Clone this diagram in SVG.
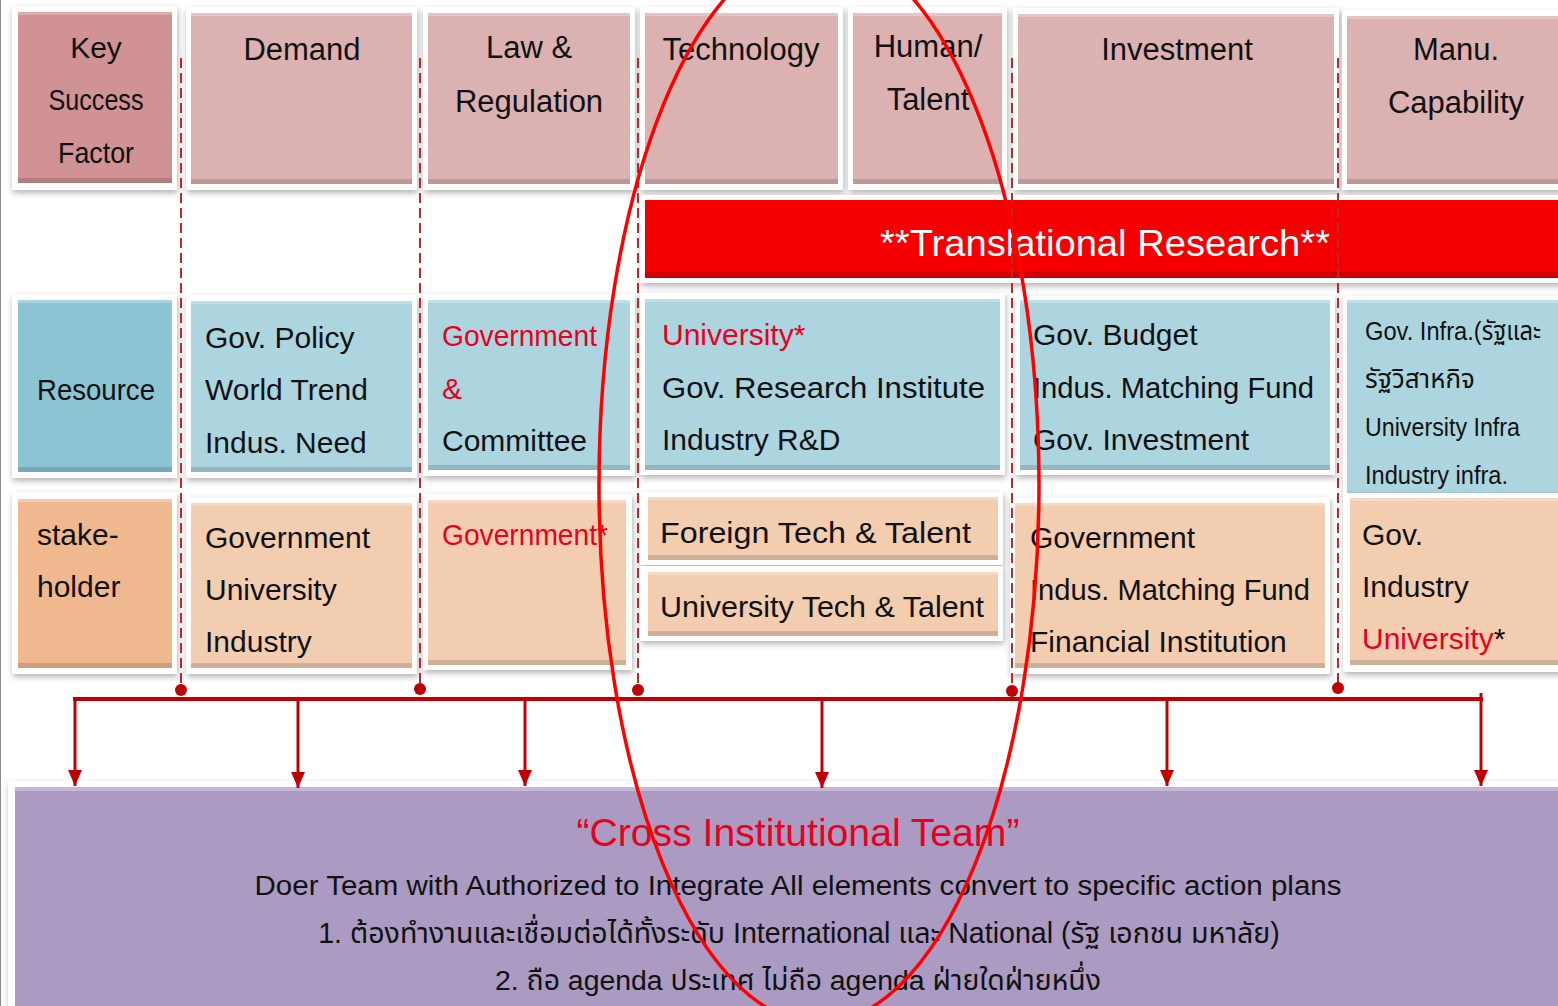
<svg xmlns="http://www.w3.org/2000/svg" width="1558" height="1006" viewBox="0 0 1558 1006">
<defs>
<filter id="sh" x="-10%" y="-10%" width="120%" height="130%">
<feDropShadow dx="1" dy="3" stdDeviation="3" flood-color="#000" flood-opacity="0.3"/>
</filter>
<marker id="arr" viewBox="0 0 16 14" refX="16" refY="7" markerWidth="16" markerHeight="14" markerUnits="userSpaceOnUse" orient="auto">
<path d="M0,0 L16,7 L0,14 Z" fill="#c00000"/>
</marker>
</defs>
<style>
.frame{fill:#fff;filter:url(#sh)}
.pk{fill:#dcb1b2}.pkD{fill:#d09294}
.bl{fill:#acd5e0}.blD{fill:#8cc4d4}
.pe{fill:#f2cdb0}.peD{fill:#f0b88f}
.pu{fill:#ab9bc3}
.rb{fill:#f40000}
.bev{fill:#000;opacity:.14}
.hi{fill:#fff;opacity:.25}
text{font-family:"Liberation Sans","Noto Sans Thai","Noto Sans","DejaVu Sans",sans-serif;fill:#111}
.h{font-size:31px;text-anchor:middle}
.k{font-size:30px;text-anchor:middle}
.b{font-size:30px}
.s{font-size:26px}
.red{fill:#e8001c}
.dash{stroke:#c0262a;stroke-width:2;stroke-dasharray:10 5;fill:none}
.dot{fill:#c00000}
.con{stroke:#c00000;fill:none}
</style>
<line x1="0.5" y1="0" x2="0.5" y2="1006" stroke="#8a8a8a" stroke-width="1"/>

<!-- header row -->
<g id="key-success-factor">
<rect class="frame" x="12" y="6" width="165" height="184"/>
<rect class="pkD" x="18" y="12" width="154" height="171"/>
<rect class="hi" x="18" y="12" width="154" height="3"/>
<rect class="bev" x="18" y="178" width="154" height="5"/>
<text class="k" x="96" y="58">Key</text>
<text class="k" x="96" y="110" textLength="95" lengthAdjust="spacingAndGlyphs">Success</text>
<text class="k" x="96" y="163" textLength="76" lengthAdjust="spacingAndGlyphs">Factor</text>
</g>
<g id="demand">
<rect class="frame" x="186" y="7" width="231" height="183"/>
<rect class="pk" x="191" y="13" width="221" height="171"/>
<rect class="hi" x="191" y="13" width="221" height="3"/>
<rect class="bev" x="191" y="179" width="221" height="5"/>
<text class="h" x="302" y="60">Demand</text>
</g>
<g id="law-regulation">
<rect class="frame" x="423" y="7" width="212" height="183"/>
<rect class="pk" x="428" y="13" width="202" height="171"/>
<rect class="hi" x="428" y="13" width="202" height="3"/>
<rect class="bev" x="428" y="179" width="202" height="5"/>
<text class="h" x="529" y="58">Law &amp;</text>
<text class="h" x="529" y="112">Regulation</text>
</g>
<g id="technology">
<rect class="frame" x="640" y="7" width="203" height="183"/>
<rect class="pk" x="645" y="13" width="193" height="171"/>
<rect class="hi" x="645" y="13" width="193" height="3"/>
<rect class="bev" x="645" y="179" width="193" height="5"/>
<text class="h" x="741" y="60">Technology</text>
</g>
<g id="human-talent">
<rect class="frame" x="848" y="7" width="159" height="183"/>
<rect class="pk" x="853" y="13" width="149" height="171"/>
<rect class="hi" x="853" y="13" width="149" height="3"/>
<rect class="bev" x="853" y="179" width="149" height="5"/>
<text class="h" x="928" y="57">Human/</text>
<text class="h" x="928" y="110">Talent</text>
</g>
<g id="investment">
<rect class="frame" x="1013" y="8" width="326" height="182"/>
<rect class="pk" x="1018" y="14" width="316" height="170"/>
<rect class="hi" x="1018" y="14" width="316" height="3"/>
<rect class="bev" x="1018" y="179" width="316" height="5"/>
<text class="h" x="1177" y="60">Investment</text>
</g>
<g id="manu-capability">
<rect class="frame" x="1342" y="10" width="230" height="180"/>
<rect class="pk" x="1347" y="16" width="220" height="168"/>
<rect class="hi" x="1347" y="16" width="220" height="3"/>
<rect class="bev" x="1347" y="179" width="220" height="5"/>
<text class="h" x="1456" y="60">Manu.</text>
<text class="h" x="1456" y="113">Capability</text>
</g>

<!-- translational research bar -->
<g id="translational-research">
<rect class="frame" x="640" y="195" width="930" height="88"/>
<rect class="rb" x="645" y="200" width="925" height="78"/>
<rect class="bev" x="645" y="272" width="925" height="6"/>
<text x="1105" y="256" font-size="37" text-anchor="middle" textLength="450" lengthAdjust="spacingAndGlyphs" style="fill:#fff">**Translational Research**</text>
</g>

<!-- resource row -->
<g id="resource">
<rect class="frame" x="12" y="294" width="165" height="184"/>
<rect class="blD" x="18" y="300" width="154" height="172"/>
<rect class="hi" x="18" y="300" width="154" height="3"/>
<rect class="bev" x="18" y="467" width="154" height="5"/>
<text class="k" x="96" y="400" textLength="118" lengthAdjust="spacingAndGlyphs">Resource</text>
</g>
<g id="resource-demand">
<rect class="frame" x="186" y="295" width="231" height="183"/>
<rect class="bl" x="191" y="301" width="221" height="171"/>
<rect class="hi" x="191" y="301" width="221" height="3"/>
<rect class="bev" x="191" y="467" width="221" height="5"/>
<text class="b" x="205" y="348">Gov. Policy</text>
<text class="b" x="205" y="400">World Trend</text>
<text class="b" x="205" y="453">Indus. Need</text>
</g>
<g id="resource-law">
<rect class="frame" x="423" y="294" width="212" height="182"/>
<rect class="bl" x="428" y="300" width="202" height="170"/>
<rect class="hi" x="428" y="300" width="202" height="3"/>
<rect class="bev" x="428" y="465" width="202" height="5"/>
<text class="b red" x="442" y="346" textLength="155" lengthAdjust="spacingAndGlyphs">Government</text>
<text class="b red" x="442" y="399">&amp;</text>
<text class="b" x="442" y="451">Committee</text>
</g>
<g id="resource-technology">
<rect class="frame" x="640" y="293" width="365" height="182"/>
<rect class="bl" x="645" y="299" width="355" height="171"/>
<rect class="hi" x="645" y="299" width="355" height="3"/>
<rect class="bev" x="645" y="465" width="355" height="5"/>
<text class="b red" x="662" y="345">University*</text>
<text class="b" x="662" y="398" textLength="323" lengthAdjust="spacingAndGlyphs">Gov. Research Institute</text>
<text class="b" x="662" y="450">Industry R&amp;D</text>
</g>
<g id="resource-investment">
<rect class="frame" x="1015" y="296" width="320" height="179"/>
<rect class="bl" x="1020" y="300" width="310" height="170"/>
<rect class="hi" x="1020" y="300" width="310" height="3"/>
<rect class="bev" x="1020" y="465" width="310" height="5"/>
<text class="b" x="1033" y="345">Gov. Budget</text>
<text class="b" x="1033" y="398" textLength="281" lengthAdjust="spacingAndGlyphs">Indus. Matching Fund</text>
<text class="b" x="1033" y="450">Gov. Investment</text>
</g>
<g id="resource-manu">
<rect class="frame" x="1343" y="296" width="230" height="198"/>
<rect class="bl" x="1347" y="300" width="220" height="193"/>
<rect class="hi" x="1347" y="300" width="220" height="3"/>
<text class="s" x="1365" y="340" textLength="176" lengthAdjust="spacingAndGlyphs">Gov. Infra.(รัฐและ</text>
<text class="s" x="1365" y="388">รัฐวิสาหกิจ</text>
<text class="s" x="1365" y="436" textLength="155" lengthAdjust="spacingAndGlyphs">University Infra</text>
<text class="s" x="1365" y="484" textLength="143" lengthAdjust="spacingAndGlyphs">Industry infra.</text>
</g>

<!-- stakeholder row -->
<g id="stakeholder">
<rect class="frame" x="12" y="492" width="165" height="182"/>
<rect class="peD" x="18" y="499" width="154" height="169"/>
<rect class="hi" x="18" y="499" width="154" height="3"/>
<rect class="bev" x="18" y="663" width="154" height="5"/>
<text class="b" x="37" y="545" font-size="29">stake-</text>
<text class="b" x="37" y="597" font-size="29">holder</text>
</g>
<g id="stakeholder-demand">
<rect class="frame" x="186" y="497" width="231" height="177"/>
<rect class="pe" x="191" y="503" width="221" height="165"/>
<rect class="hi" x="191" y="503" width="221" height="3"/>
<rect class="bev" x="191" y="663" width="221" height="5"/>
<text class="b" x="205" y="548">Government</text>
<text class="b" x="205" y="600">University</text>
<text class="b" x="205" y="652">Industry</text>
</g>
<g id="stakeholder-law">
<rect class="frame" x="423" y="494" width="209" height="176"/>
<rect class="pe" x="428" y="500" width="198" height="165"/>
<rect class="hi" x="428" y="500" width="198" height="3"/>
<rect class="bev" x="428" y="660" width="198" height="5"/>
<text class="b red" x="442" y="545" textLength="166" lengthAdjust="spacingAndGlyphs">Government*</text>
</g>
<g id="foreign-tech-talent">
<rect class="frame" x="640" y="492" width="363" height="73"/>
<rect class="pe" x="648" y="497" width="350" height="63"/>
<rect class="hi" x="648" y="497" width="350" height="3"/>
<rect class="bev" x="648" y="555" width="350" height="5"/>
<text class="b" x="660" y="543" textLength="311" lengthAdjust="spacingAndGlyphs">Foreign Tech &amp; Talent</text>
</g>
<g id="university-tech-talent">
<rect class="frame" x="640" y="566" width="363" height="75"/>
<rect class="pe" x="648" y="572" width="350" height="64"/>
<rect class="hi" x="648" y="572" width="350" height="3"/>
<rect class="bev" x="648" y="631" width="350" height="5"/>
<text class="b" x="660" y="617" textLength="324" lengthAdjust="spacingAndGlyphs">University Tech &amp; Talent</text>
</g>
<g id="stakeholder-investment">
<rect class="frame" x="1010" y="497" width="320" height="177"/>
<rect class="pe" x="1015" y="503" width="310" height="165"/>
<rect class="hi" x="1015" y="503" width="310" height="3"/>
<rect class="bev" x="1015" y="663" width="310" height="5"/>
<text class="b" x="1030" y="548">Government</text>
<text class="b" x="1030" y="600" textLength="280" lengthAdjust="spacingAndGlyphs">Indus. Matching Fund</text>
<text class="b" x="1030" y="652">Financial Institution</text>
</g>
<g id="stakeholder-manu">
<rect class="frame" x="1343" y="493" width="230" height="179"/>
<rect class="pe" x="1350" y="498" width="220" height="167"/>
<rect class="hi" x="1350" y="498" width="220" height="3"/>
<rect class="bev" x="1350" y="660" width="220" height="5"/>
<text class="b" x="1362" y="545">Gov.</text>
<text class="b" x="1362" y="597">Industry</text>
<text class="b" x="1362" y="649"><tspan class="red">University</tspan>*</text>
</g>

<!-- cross institutional team -->
<g id="cross-institutional-team">
<rect class="frame" x="8" y="781" width="1570" height="240"/>
<rect class="pu" x="15" y="787" width="1560" height="230"/>
<rect fill="#c4b6d8" x="15" y="787" width="1560" height="4"/>
<text class="red" x="798" y="846" font-size="38" text-anchor="middle" textLength="443" lengthAdjust="spacingAndGlyphs">“Cross Institutional Team”</text>
<text x="798" y="895" font-size="27" text-anchor="middle" textLength="1087" lengthAdjust="spacingAndGlyphs">Doer Team with Authorized to Integrate All elements convert to specific action plans</text>
<text x="799" y="943" font-size="28.6" text-anchor="middle">1. ต้องทำงานและเชื่อมต่อได้ทั้งระดับ International และ National (รัฐ เอกชน มหาลัย)</text>
<text x="798" y="990" font-size="28.4" text-anchor="middle">2. ถือ agenda ประเทศ ไม่ถือ agenda ฝ่ายใดฝ่ายหนึ่ง</text>
</g>

<!-- connectors -->
<g id="connectors">
<line class="dash" x1="181" y1="58" x2="181" y2="688"/>
<line class="dash" x1="420" y1="58" x2="420" y2="688"/>
<line class="dash" x1="638" y1="58" x2="638" y2="688"/>
<line class="dash" x1="1012" y1="58" x2="1012" y2="688"/>
<line class="dash" x1="1338" y1="58" x2="1338" y2="686"/>
<circle class="dot" cx="181" cy="690" r="6"/>
<circle class="dot" cx="420" cy="689" r="6"/>
<circle class="dot" cx="638" cy="690" r="6"/>
<circle class="dot" cx="1012" cy="691" r="6"/>
<circle class="dot" cx="1338" cy="688" r="6"/>
<line class="con" x1="73" y1="699" x2="1483" y2="699" stroke-width="4"/>
<line class="con" x1="75" y1="697" x2="75" y2="786" stroke-width="3" marker-end="url(#arr)"/>
<line class="con" x1="298" y1="697" x2="298" y2="788" stroke-width="3" marker-end="url(#arr)"/>
<line class="con" x1="525" y1="697" x2="525" y2="786" stroke-width="3" marker-end="url(#arr)"/>
<line class="con" x1="822" y1="697" x2="822" y2="788" stroke-width="3" marker-end="url(#arr)"/>
<line class="con" x1="1167" y1="697" x2="1167" y2="786" stroke-width="3" marker-end="url(#arr)"/>
<line class="con" x1="1481" y1="693" x2="1481" y2="786" stroke-width="3" marker-end="url(#arr)"/>
</g>

<!-- red ellipse annotation -->
<ellipse cx="819" cy="485" rx="220" ry="538" fill="none" stroke="#ff0000" stroke-width="3.5"/>
</svg>
